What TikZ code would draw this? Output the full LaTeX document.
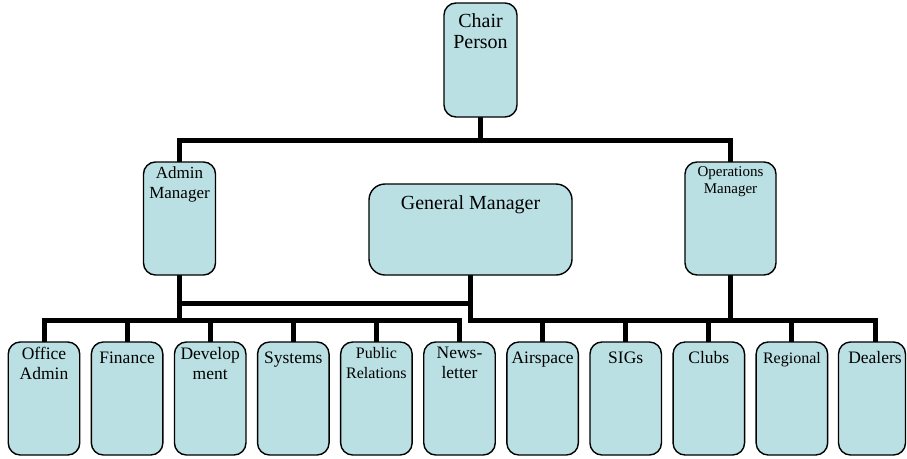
\documentclass[tikz,border=0pt]{standalone}
\usepackage{fontspec}
\setmainfont{Liberation Serif}
\usetikzlibrary{calc,backgrounds}
\definecolor{boxfill}{RGB}{186,224,227}
\tikzset{
  box/.style={draw=black, line width=1.4pt, fill=boxfill, rounded corners=12pt, inner sep=0pt, outer sep=0pt},
  lbl/.style={anchor=north, inner sep=0pt, align=center, execute at begin node={\rule{0pt}{16pt}}},
  conn/.style={line width=5pt, line join=miter},
}
\begin{document}
\begin{tikzpicture}[x=1pt,y=-1pt]
\useasboundingbox (0,0) rectangle (907,458);
% top level
\node[box, minimum width=73pt, minimum height=114pt] (chair) at (480.5,60) {};
\node[lbl, font=\fontsize{20}{21}\selectfont] (tchair) at ($(chair.north)+(0,10)$) {Chair\\Person};
\node[box, minimum width=72pt, minimum height=113pt] (admin) at (179.5,218.5) {};
\node[lbl, font=\fontsize{17}{19.5}\selectfont] (tadmin) at ($(admin.north)+(0,5)$) {Admin\\Manager};
\node[box, rounded corners=16pt, minimum width=203pt, minimum height=91pt] (gm) at (470.5,229.5) {};
\node[lbl, font=\fontsize{20}{22}\selectfont] (tgm) at ($(gm.north)+(0,9)$) {General Manager};
\node[box, minimum width=91pt, minimum height=113pt] (ops) at (730.5,218.5) {};
\node[lbl, font=\fontsize{15}{17.5}\selectfont] (tops) at ($(ops.north)+(0,4)$) {Operations\\Manager};
% bottom level
\foreach \i/\cx/\fs/\txt in {1/44/17.5/{Office\\Admin},2/127.1/17.5/{Finance},3/210.2/17.5/{Develop\\ment},4/293.3/17.5/{Systems},5/376.4/16/{Public\\Relations},6/459.5/17.5/{News-\\letter},7/542.6/17.5/{Airspace},8/625.7/17.5/{SIGs},9/708.8/17.5/{Clubs},10/791.9/16/{Regional}}{
  \node[box, minimum width=71.5pt, minimum height=113pt] (b\i) at (\cx,398.5) {};
  \node[lbl, font=\fontsize{\fs}{20}\selectfont] (t\i) at ($(b\i.north)+(0,5)$) {\txt};
}
\node[box, minimum width=67pt, minimum height=113pt] (b11) at (872,398.5) {};
\node[lbl, font=\fontsize{17.5}{20}\selectfont] (t11) at ($(b11.north)+(3,5)$) {Dealers};
% connectors
\coordinate (topbar) at (0,140);
\coordinate (midbar) at (0,303.5);
\coordinate (lowbar) at (0,320);
\coordinate (dstem) at ($(b11.north)+(3,0)$);
\begin{scope}[on background layer]
\fill[white] (0,0) rectangle (907,458);
\draw[conn] (chair.south) -- (chair.south |- topbar);
\draw[conn] (admin.north) |- (ops.north |- topbar) -- (ops.north);
\draw[conn] (admin.south) -- (admin.south |- lowbar);
\draw[conn] (admin.south |- midbar) -- (gm.south |- midbar);
\draw[conn] (b1.north) |- (b6.north |- lowbar) -- (b6.north);
\foreach \i in {2,3,4,5}{\draw[conn] (b\i.north) -- (b\i.north |- lowbar);}
\draw[conn] (gm.south) |- (dstem |- lowbar) -- (dstem);
\foreach \i in {7,8,9,10}{\draw[conn] (b\i.north) -- (b\i.north |- lowbar);}
\draw[conn] (ops.south) -- (ops.south |- lowbar);
\end{scope}
\end{tikzpicture}
\end{document}
